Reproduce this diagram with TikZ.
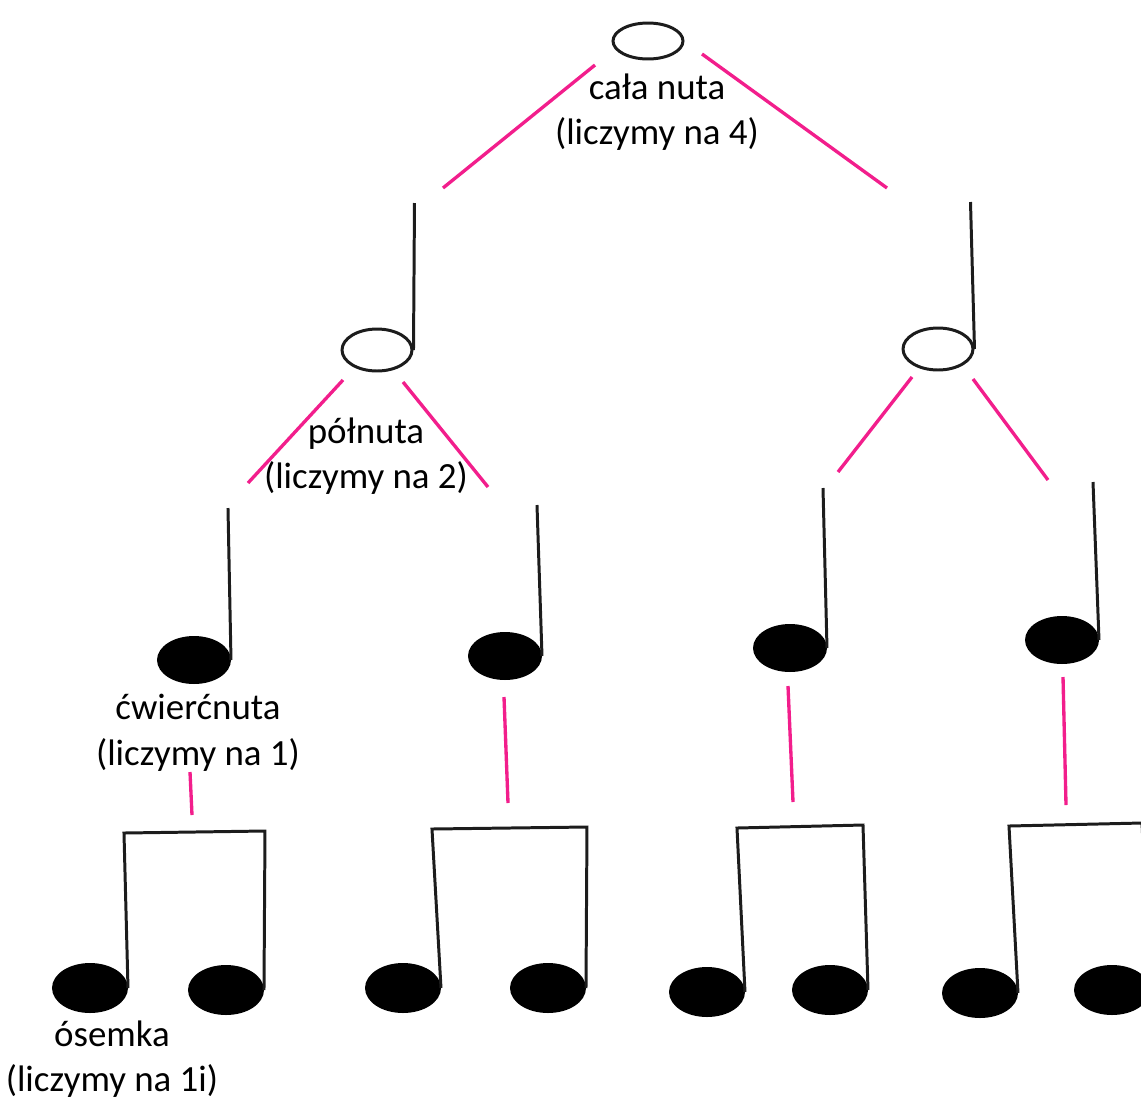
\documentclass[tikz,border=0pt]{standalone}
\usepackage{fontspec}
\setmainfont{Carlito}
\usetikzlibrary{shapes.geometric}
\definecolor{cpink}{HTML}{F21E8C}
\definecolor{cink}{HTML}{1C1C1C}
\tikzset{
  every picture/.style={line width=1.7pt},
  hollowhead/.style={ellipse, draw=cink, fill=white, inner sep=0pt, minimum width=1.40cm, minimum height=0.84cm},
  blackhead/.style={ellipse, draw=black, fill=black, inner sep=0pt, minimum width=1.42cm, minimum height=0.90cm},
  notestem/.style={draw=cink, line width=1.7pt},
  link/.style={draw=cpink, line width=1.9pt},
  notename/.style={font=\fontsize{21}{26}\selectfont, align=center, inner sep=0pt},
}

\begin{document}
\begin{tikzpicture}[x=0.02cm, y=-0.02cm]
  \useasboundingbox (0,0) rectangle (1141,1099);
  \clip (0,0) rectangle (1141,1099);
  % whole note
  \node[hollowhead, minimum height=0.72cm] (w) at (648,41) {};
  \node[notename] (tw) at (657,112) {cała nuta\\(liczymy na 4)};
  % half notes
  \node[hollowhead] (h1) at (377,350) {};
  \node[hollowhead] (h2) at (938,349) {};
  \draw[notestem] (h1.east) -- ++(1,-147);
  \draw[notestem] (h2.east) -- ++(-4,-147);
  \node[notename] (th) at (366,456) {półnuta\\(liczymy na 2)};
  % quarter notes
  \node[blackhead] (q1) at (194,660) {};
  \node[blackhead] (q2) at (505,656) {};
  \node[blackhead] (q3) at (790,648) {};
  \node[blackhead] (q4) at (1062,640) {};
  \draw[notestem] (q1.east) -- ++(-3,-152);
  \draw[notestem] (q2.east) -- ++(-5,-151);
  \draw[notestem] (q3.east) -- ++(-4,-160);
  \draw[notestem] (q4.east) -- ++(-6,-158);
  \node[notename] (tq) at (198,733) {ćwierćnuta\\(liczymy na 1)};
  % eighth notes, two under a beam
  \node[blackhead, minimum width=1.46cm, minimum height=0.94cm] (p1a) at (90,988) {};
  \node[blackhead, minimum width=1.46cm, minimum height=0.94cm] (p1b) at (226,990) {};
  \node[blackhead, minimum width=1.46cm, minimum height=0.94cm] (p2a) at (403,988) {};
  \node[blackhead, minimum width=1.46cm, minimum height=0.94cm] (p2b) at (548,988) {};
  \node[blackhead, minimum width=1.46cm, minimum height=0.94cm] (p3a) at (707,992) {};
  \node[blackhead, minimum width=1.46cm, minimum height=0.94cm] (p3b) at (830,990) {};
  \node[blackhead, minimum width=1.46cm, minimum height=0.94cm] (p4a) at (980,993) {};
  \node[blackhead, minimum width=1.46cm, minimum height=0.94cm] (p4b) at (1112,990) {};
  \draw[notestem] (p1a.east) -- ++(-4,-155) -- ++(141,-2) -- (p1b.east);
  \draw[notestem] (p2a.east) -- ++(-9,-159) -- ++(155,-2) -- (p2b.east);
  \draw[notestem] (p3a.east) -- ++(-8,-164) -- ++(126,-3) -- (p3b.east);
  \draw[notestem] (p4a.east) -- ++(-9,-167) -- ++(133,-3) -- (p4b.east);
  \node[notename] (te) at (112,1059) {ósemka\\(liczymy na 1i)};
  % pink links
  \foreach \nm/\px/\py in {a1/595/65, b1/443/188, a2/702/54, b2/887/188,
                          a3/343/380, b3/248/483, a4/403/382, b4/488/487,
                          a5/912/377, b5/838/472, a6/973/379, b6/1048/480,
                          a7/190/772, b7/192/815, a8/504/697, b8/508/803,
                          a9/788/686, b9/793/802, a10/1063/677, b10/1066/805}
    \coordinate (\nm) at (\px,\py);
  \foreach \i in {1,...,10} \draw[link] (a\i) -- (b\i);
\end{tikzpicture}
\end{document}
